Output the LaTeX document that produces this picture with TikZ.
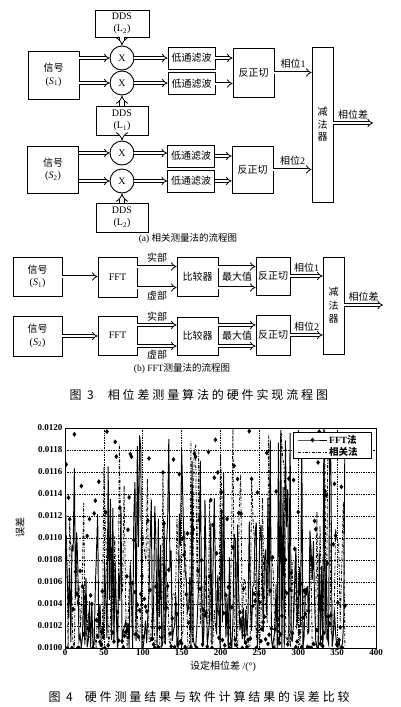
\documentclass[tikz,border=0pt]{standalone}
\usepackage{fontspec}
\setmainfont{Liberation Serif}
\newfontfamily\cjk{Noto Sans CJK SC}
\newfontfamily\cjkcap[LetterSpace=24]{Noto Sans CJK SC}
\usetikzlibrary{arrows.meta,plotmarks}
\newcommand{\zh}[1]{{\cjk #1}}
\newcommand{\dsub}[1]{\textsubscript{#1}}

\begin{document}
\begin{tikzpicture}[x=1pt,y=-1pt,font=\fontsize{10}{12.5}\selectfont,
  box/.style 2 args={draw,line width=0.9pt,minimum width=#1,minimum height=#2,inner sep=0pt,align=center},
  mul/.style={draw,line width=0.9pt,circle,minimum size=24pt,inner sep=0pt},
  dbl/.style={double,double distance=2pt,line width=0.8pt,-{Implies}},
  dblw/.style={dbl,double distance=3.6pt},
  grd/.style={densely dotted,line width=0.7pt},
  ticklbl/.style={font=\fontsize{9}{10}\selectfont\bfseries,inner sep=1.5pt},
  dashdot/.style={dash pattern=on 3pt off 1.5pt on 0.8pt off 1.5pt}]
  \useasboundingbox (0,0) rectangle (400,707);
  % (a)
  \node[box={54pt}{27pt}] (ddsa) at (122,23.5) {DDS\\(L\dsub{2})};
  \node[box={51pt}{48pt}] (sga) at (53.5,75) {\zh{信号}\\(\textit{S}\dsub{1})};
  \node[mul] (xa) at (122,58) {X}; \node[mul] (xb) at (122,83) {X};
  \node[box={52pt}{29pt}] (ddsb) at (122,120.5) {DDS\\(L\dsub{1})};
  \node[box={47pt}{22pt}] (lpa) at (191.5,58) {\zh{低通滤波}}; \node[box={47pt}{22pt}] (lpb) at (191.5,83.5) {\zh{低通滤波}};
  \node[box={41pt}{49pt}] (ata) at (253.5,72.5) {\zh{反正切}};
  \node[box={51pt}{47pt}] (sgb) at (53,169.5) {\zh{信号}\\(\textit{S}\dsub{2})};
  \node[mul] (xc) at (122,153) {X}; \node[mul] (xd) at (122,181) {X};
  \node[box={52pt}{29pt}] (ddsc) at (122,217.5) {DDS\\(L\dsub{2})};
  \node[box={47pt}{22pt}] (lpc) at (191,156) {\zh{低通滤波}}; \node[box={47pt}{22pt}] (lpd) at (191,181) {\zh{低通滤波}};
  \node[box={41pt}{47pt}] (atb) at (252.5,169.5) {\zh{反正切}};
  \node[box={21pt}{155pt}] (sba) at (322.5,124.5) {\zh{减}\\\zh{法}\\\zh{器}};
  \foreach \m/\s/\l in {xa/sga/lpa,xb/sga/lpb,xc/sgb/lpc,xd/sgb/lpd} {\draw[dbl] (\s.east |- \m) -- (\m); \draw[dbl] (\m) -- (\m -| \l.west);}
  \foreach \l/\a in {lpa/ata,lpb/ata,lpc/atb,lpd/atb} \draw[dbl] (\l) -- (\l -| \a.west);
  \draw[dblw] (ddsa) -- (xa); \draw[dblw] (ddsb) -- (xb); \draw[dblw] (ddsb) -- (xc); \draw[dblw] (ddsc) -- (xd);
  \draw[dbl] (ata) -- (ata -| sba.west) node[midway,above] {\zh{相位}1};
  \draw[dbl] (atb) -- (atb -| sba.west) node[midway,above] {\zh{相位}2};
  \coordinate (outa) at (373,123);
  \draw[dbl] (sba.east |- outa) -- (outa) node[midway,above] {\zh{相位差}};
  \node[font=\fontsize{9.5}{11}\selectfont] (capa) at (188,238) {(a) \zh{相关测量法的流程图}};
  % (b)
  \node[box={49pt}{39pt}] (sgc) at (37.5,276.5) {\zh{信号}\\(\textit{S}\dsub{1})};
  \node[box={39pt}{40pt}] (ffa) at (117.5,277) {FFT};
  \node[box={41pt}{39pt}] (cpa) at (197.5,276.5) {\zh{比较器}};
  \node[box={34pt}{38pt}] (atc) at (273,276) {\zh{反正切}};
  \node[box={49pt}{40pt}] (sgd) at (37.5,336) {\zh{信号}\\(\textit{S}\dsub{2})};
  \node[box={39pt}{39pt}] (ffb) at (117.5,335.5) {FFT};
  \node[box={41pt}{38pt}] (cpb) at (197.5,336) {\zh{比较器}};
  \node[box={34pt}{40pt}] (atd) at (273,335) {\zh{反正切}};
  \node[box={21pt}{97pt},font=\fontsize{10}{13.5}\selectfont] (sbb) at (333.5,305.5) {\zh{减}\\\zh{法}\\\zh{器}};
  \draw[dbl] (sgc) -- (sgc -| ffa.west); \draw[dbl] (sgd) -- (sgd -| ffb.west);
  \foreach \f/\c/\t/\n in {ffa/cpa/atc/1,ffb/cpb/atd/2} {
    \coordinate (re\n) at ([yshift=10.5pt]\f.east); \coordinate (im\n) at ([yshift=-10.5pt]\f.east);
    \draw[dbl] (re\n) -- (re\n -| \c.west) node[midway,above] {\zh{实部}};
    \draw[dbl] (im\n) -- (im\n -| \c.west) node[midway,below] {\zh{虚部}};
    \draw[dbl] (re\n -| \c.east) -- (re\n -| \t.west); \draw[dbl] (im\n -| \c.east) -- (im\n -| \t.west);
    \path (\c.east) -- (\t.west) node[midway] (mx\n) {\zh{最大值}};
    \draw[dbl] (\t) -- (\t -| sbb.west) node[midway,above] {\zh{相位}\n};
  }
  \coordinate (outb) at (383,305);
  \draw[dbl] (sbb.east |- outb) -- (outb) node[midway,above] {\zh{相位差}};
  \node[font=\fontsize{9.5}{11}\selectfont] (capb) at (182,368) {(b) FFT\zh{测量法的流程图}};
  \node[anchor=west,font=\fontsize{12}{14}\selectfont] (cap3) at (66,395) {\cjkcap 图\ 3\hspace{14pt}相位差测量算法的硬件实现流程图};
  % chart
  \foreach \i in {1,...,7} \draw[grd] ({65+38.875*\i},428) -- ({65+38.875*\i},648);
  \foreach \j in {1,...,9} \draw[grd] (65,{428+22*\j}) -- (376,{428+22*\j});
  \begin{scope}
    \clip (65,428) rectangle (376,648);
    \pgfmathsetseed{11}
    \draw[line width=0.95pt,mark=diamond*,mark size=1.7pt] plot[domain=0:360,samples=241] ({65+0.7775*\x},{648-220*rnd^2.1});
    \draw[line width=0.8pt,dashdot] plot[domain=0:360,samples=181] ({65+0.7775*\x},{648-220*rnd^2.3});
  \end{scope}
  \draw[line width=0.9pt] (65,428) rectangle (376,648);
  \foreach \v in {0,50,...,400} \node[below,ticklbl] (xt\v) at ({65+0.7775*\v},648) {\v};
  \foreach \t [count=\j from 0] in {0.0120,0.0118,0.0116,0.0114,0.0112,0.0110,0.0108,0.0106,0.0104,0.0102,0.0100} \node[left,ticklbl] (yt\j) at (64,{428+22*\j}) {\t};
  \node[rotate=90] (ylab) at (20,527) {\zh{误差}};
  \node (xlab) at (223,666) {\zh{设定相位差} /(°)};
  \node[draw,fill=white,line width=0.8pt,minimum width=78pt,minimum height=26pt,inner sep=0pt] (leg) at (332,445) {};
  \draw[line width=0.8pt,mark=diamond*,mark size=1.8pt,mark indices={2}] plot coordinates {(298,440) (312.5,440) (327,440)};
  \draw[line width=0.8pt,dashdot] (298,452) -- (327,452);
  \node[right,inner sep=1pt,font=\fontsize{9.5}{11}\selectfont\bfseries] (lga) at (328,440) {FFT\zh{法}};
  \node[right,inner sep=1pt,font=\fontsize{9.5}{11}\selectfont\bfseries] (lgb) at (328,452) {\zh{相关法}};
  \node[anchor=west,font=\fontsize{12}{14}\selectfont] (cap4) at (45,697) {\cjkcap 图\ 4\hspace{12pt}硬件测量结果与软件计算结果的误差比较};
\end{tikzpicture}
\end{document}
